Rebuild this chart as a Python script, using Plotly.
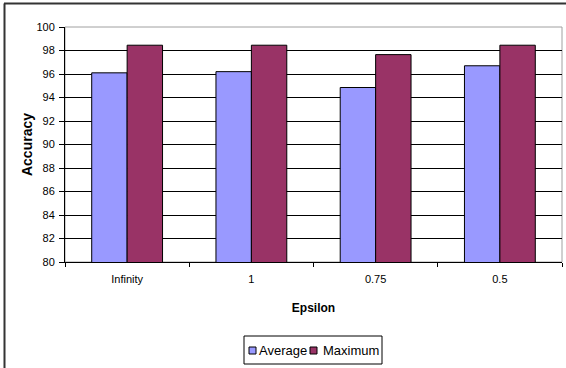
import plotly.graph_objects as go

# Accuracy per privacy budget
epsilon = ["Infinity", "1", "0.75", "0.5"]
average = [96.1, 96.2, 94.85, 96.7]
maximum = [98.45, 98.45, 97.65, 98.45]

series_names = ["Average", "Maximum"]
series_colors = ["#9999FF", "#993366"]

fig = go.Figure()
for name, vals, col in zip(series_names, [average, maximum], series_colors):
    fig.add_trace(go.Bar(
        x=epsilon, y=vals, name=name,
        marker=dict(color=col, line=dict(color="#000000", width=1)),
    ))

font_family = "Liberation Sans, Arial, sans-serif"

# plot area in pixels: x 65..562, y 27..262
PL, PR, PT, PB = 65, 562, 27, 262


def px(xp):
    return (xp - PL) / (PR - PL)


def py(yp):
    return (PB - yp) / (PB - PT)


shapes = [
    # grey plot-area frame
    dict(type="rect", xref="paper", yref="paper", x0=0, x1=1, y0=0, y1=1,
         line=dict(color="#A0A0A0", width=1), layer="below"),
    # outer chart frame (top and left edges)
    dict(type="line", xref="paper", yref="paper", x0=px(4), x1=px(570), y0=py(3.5), y1=py(3.5),
         line=dict(color="#333333", width=2)),
    dict(type="line", xref="paper", yref="paper", x0=px(4.5), x1=px(4.5), y0=py(3.5), y1=py(372),
         line=dict(color="#333333", width=2)),
    # legend box
    dict(type="rect", xref="paper", yref="paper", x0=px(244), x1=px(382), y0=py(336), y1=py(364),
         line=dict(color="#000000", width=1), fillcolor="white"),
]
annotations = []
legend_items = [(249, 257, "Average"), (310, 321, "Maximum")]
for (sx, tx, label), col in zip(legend_items, series_colors):
    shapes.append(dict(type="rect", xref="paper", yref="paper",
                       x0=px(sx), x1=px(sx + 7), y0=py(347), y1=py(354),
                       line=dict(color="#000000", width=1), fillcolor=col))
    annotations.append(dict(xref="paper", yref="paper", x=px(tx), y=py(350.5),
                            xanchor="left", yanchor="middle", text=label, showarrow=False,
                            font=dict(size=13, color="#000000")))

fig.update_layout(
    width=566, height=368,
    margin=dict(l=PL, r=566 - PR, t=PT, b=368 - PB),
    paper_bgcolor="white", plot_bgcolor="white",
    barmode="group", bargap=0.43, bargroupgap=0,
    font=dict(family=font_family, size=11, color="#000000"),
    showlegend=False,
    shapes=shapes,
    annotations=annotations,
)

fig.update_xaxes(
    type="category", tickson="boundaries", ticks="outside", ticklen=4,
    tickcolor="#000000", showline=True, linecolor="#000000", linewidth=1,
    showgrid=False, tickfont=dict(size=11), ticklabelstandoff=7,
    title=dict(text="<b>Epsilon</b>", font=dict(size=12), standoff=19),
)
fig.update_yaxes(
    range=[80, 100], dtick=2, ticks="outside", ticklen=5, tickcolor="#000000",
    showline=True, linecolor="#000000", linewidth=1,
    showgrid=True, gridcolor="#000000", gridwidth=1, zeroline=False,
    tickfont=dict(size=11), ticklabelstandoff=2,
    title=dict(text="<b>Accuracy</b>", font=dict(size=14), standoff=0),
)

fig.write_html("out.html")
